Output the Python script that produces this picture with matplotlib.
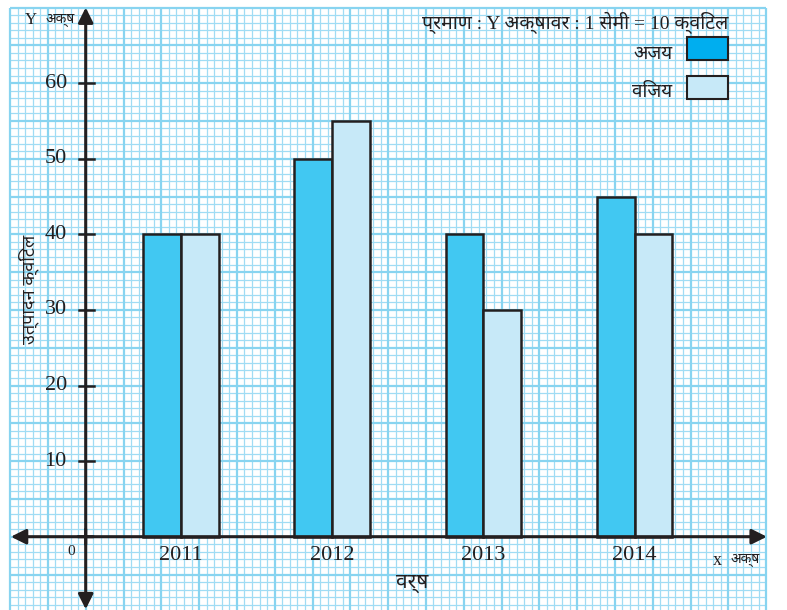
import matplotlib
matplotlib.use('Agg')
import matplotlib.pyplot as plt
from matplotlib import font_manager
from matplotlib.collections import LineCollection
from matplotlib.patches import Rectangle

# production (quintals) per year
years = ['2011', '2012', '2013', '2014']
ajay = [40, 50, 40, 45]
vijay = [40, 55, 30, 40]
y_ticks = [10, 20, 30, 40, 50, 60]

ajay_color = '#41c8f2'
ajay_legend_color = '#00aeef'
vijay_color = '#c7e9f8'
edge = '#231f20'
minor_c = '#a0dcf4'
major_c = '#88d4f0'

# pick a proportional font with Devanagari glyphs if one is installed
names = sorted({f.name for f in font_manager.fontManager.ttflist})
prefer = ['Noto Sans Devanagari', 'Noto Serif Devanagari', 'Lohit Devanagari', 'Mukta',
          'Hind', 'Kalimati', 'Gargi', 'FreeSans', 'FreeSerif']
deva = next((p for p in prefer if p in names), None)
if deva is None:
    deva = next((n for n in names if 'devanagari' in n.lower()), None)
deva_family = [deva, 'DejaVu Sans'] if deva else ['DejaVu Sans']
serif = ['Liberation Serif', 'DejaVu Serif']
mixed = ['Liberation Serif'] + deva_family   # latin in serif, devanagari falls through

W, H = 787, 610
ox, oy = 85.7, 536.7   # origin in pixels
unit = 7.56            # pixels per y-unit (10 quintal = 2 cm)

fig = plt.figure(figsize=(W / 100, H / 100), dpi=100)
ax = fig.add_axes([0, 0, 1, 1])
ax.set_xlim(-ox / unit, (W - ox) / unit)
ax.set_ylim(-(H - oy) / unit, oy / unit)
ax.axis('off')

# graph paper
x0, x1, y0, y1 = -10, 90, -10, 70
minor_v = [[(x, y0), (x, y1)] for x in range(x0, x1 + 1) if x % 5]
minor_h = [[(x0, y), (x1, y)] for y in range(y0, y1 + 1) if y % 5]
major_v = [[(x, y0), (x, y1)] for x in range(x0, x1 + 1, 5)]
major_h = [[(x0, y), (x1, y)] for y in range(y0, y1 + 1, 5)]
ax.add_collection(LineCollection(minor_v + minor_h, colors=minor_c, linewidths=0.9, zorder=1))
ax.add_collection(LineCollection(major_v + major_h, colors=major_c, linewidths=1.6, zorder=1))

# bars
lefts = [7.6 + 20 * i for i in range(len(years))]
bw = 5
ax.bar(lefts, ajay, width=bw, align='edge', color=ajay_color, edgecolor=edge, linewidth=1.8, zorder=3)
ax.bar([l + bw for l in lefts], vijay, width=bw, align='edge', color=vijay_color, edgecolor=edge, linewidth=1.8, zorder=3)

# axes with arrows
arr = dict(arrowstyle='-|>,head_length=0.9,head_width=0.45', color=edge, lw=2.2, shrinkA=0, shrinkB=0)
ax.annotate('', xy=(90.1, 0), xytext=(-1, 0), arrowprops=arr, zorder=4)
ax.annotate('', xy=(-9.9, 0), xytext=(1, 0), arrowprops=arr, zorder=4)
ax.annotate('', xy=(0, 70.0), xytext=(0, -1), arrowprops=arr, zorder=4)
ax.annotate('', xy=(0, -9.6), xytext=(0, 1), arrowprops=arr, zorder=4)

# y ticks
for t in y_ticks:
    ax.plot([-0.9, 1.1], [t, t], color=edge, lw=1.8, zorder=4)
    ax.text(-2.5, t, str(t), ha='right', va='center', fontsize=16, family=serif, color=edge, zorder=5)
ax.text(-1.4, -2.0, '0', ha='right', va='center', fontsize=11, family=serif, color=edge)

for i, yr in enumerate(years):
    ax.text(lefts[i] + bw, -2.5, yr, ha='center', va='center', fontsize=16, family=serif, color=edge, zorder=5)

# axis captions
ax.text(-7.2, 68.3, 'Y', ha='center', va='center', fontsize=12, family=serif, color=edge)
ax.text(-3.4, 68.4, 'अक्ष', ha='center', va='center', fontsize=10, family=deva_family, color=edge)
ax.text(83.6, -3.1, 'x', ha='center', va='center', fontsize=13, family=serif, color=edge)
ax.text(87.2, -3.0, 'अक्ष', ha='center', va='center', fontsize=10, family=deva_family, color=edge)
ax.text(43.2, -6.0, 'वर्ष', ha='center', va='center', fontsize=15, family=deva_family, color=edge)
ax.text(-7.6, 32.7, 'उत्पादन क्विंटल', ha='center', va='center', rotation=90, fontsize=13,
        family=deva_family, color=edge)

# scale note and legend
ax.text(85.0, 68.0, 'प्रमाण : Y अक्षावर : 1 सेमी = 10 क्विंटल', ha='right', va='center',
        fontsize=14, family=mixed, color=edge)
ax.text(77.6, 63.9, 'अजय', ha='right', va='center', fontsize=13.5, family=deva_family, color=edge)
ax.text(77.6, 58.8, 'विजय', ha='right', va='center', fontsize=13.5, family=deva_family, color=edge)
ax.add_patch(Rectangle((79.5, 63.05), 5.5, 3.05, facecolor=ajay_legend_color, edgecolor=edge, lw=1.5, zorder=3))
ax.add_patch(Rectangle((79.5, 57.85), 5.5, 3.05, facecolor=vijay_color, edgecolor=edge, lw=1.5, zorder=3))

fig.savefig('out.png', dpi=100)
